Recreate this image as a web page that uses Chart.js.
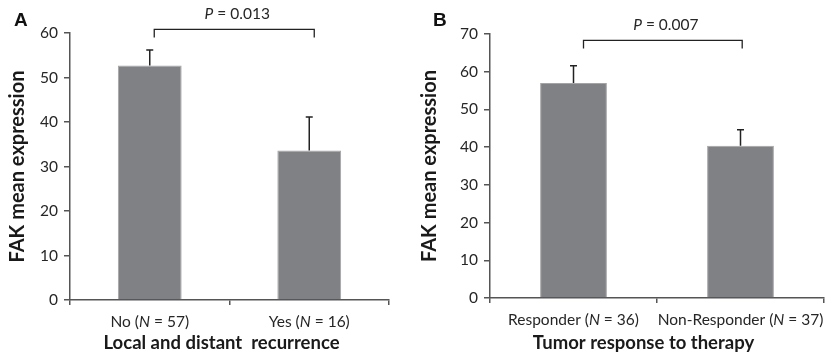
<!DOCTYPE html>
<html><head><meta charset="utf-8">
<script src="https://cdn.jsdelivr.net/npm/chart.js@4"></script>
<style>
html,body{margin:0;padding:0;background:#fff;width:825px;height:358px;overflow:hidden}
.p{position:absolute;top:0;height:358px}
#pa{left:0;width:412px}
#pb{left:412px;width:413px}
</style></head><body>
<div class="p" id="pa"><canvas id="ca"></canvas></div>
<div class="p" id="pb"><canvas id="cb"></canvas></div>
<script>
// ---- data ----
const yTitle = 'FAK mean expression';

const panelA = 'A';
const categoriesA = ['No (N = 57)', 'Yes (N = 16)'];
const meansA = [52.7, 33.6];
const errorsA = [3.5, 7.5];
const yTicksA = [0, 10, 20, 30, 40, 50, 60];
const pValueA = 'P = 0.013';
const xTitleA = 'Local and distant  recurrence';

const panelB = 'B';
const categoriesB = ['Responder (N = 36)', 'Non-Responder (N = 37)'];
const meansB = [57.0, 40.4];
const errorsB = [4.6, 4.2];
const yTicksB = [0, 10, 20, 30, 40, 50, 60, 70];
const pValueB = 'P = 0.007';
const xTitleB = 'Tumor response to therapy';

const FONT = 'Lato, "Open Sans", sans-serif';
const AXIS = '#555';
const TEXT = '#262626';

function drawMixed(ctx, text, cx, cy, size, bold) {
  const parts = text.split(/(\b[NP]\b)/).filter(s => s.length);
  const fN = (bold ? 'bold ' : '') + size + 'px ' + FONT;
  const fI = 'italic ' + (bold ? 'bold ' : '') + size + 'px ' + FONT;
  let w = 0;
  const segs = parts.map(s => {
    const it = /^[NP]$/.test(s);
    ctx.font = it ? fI : fN;
    const m = ctx.measureText(s).width;
    w += m;
    return {s, it, m};
  });
  let x = cx - w / 2;
  ctx.textAlign = 'left';
  ctx.textBaseline = 'middle';
  segs.forEach(g => { ctx.font = g.it ? fI : fN; ctx.fillText(g.s, x, cy); x += g.m; });
}

function makeChart(id, cfg) {
  const overlay = {
    id: 'overlay' + id,
    afterDraw(chart) {
      const ctx = chart.ctx;
      const ys = chart.scales.y, xs = chart.scales.x;
      const bars = chart.getDatasetMeta(0).data;
      const area = chart.chartArea;
      ctx.save();
      // error bars
      ctx.strokeStyle = '#222';
      ctx.lineWidth = 1.5;
      bars.forEach((bar, i) => {
        const top = ys.getPixelForValue(cfg.means[i] + cfg.errors[i]);
        ctx.beginPath();
        ctx.moveTo(bar.x, bar.y);
        ctx.lineTo(bar.x, top);
        ctx.moveTo(bar.x - 3.5, top);
        ctx.lineTo(bar.x + 3.5, top);
        ctx.stroke();
      });
      // bracket
      const yb = ys.getPixelForValue(cfg.bracketValue);
      const x1 = bars[0].x + cfg.bracketOff[0];
      const x2 = bars[1].x + cfg.bracketOff[1];
      ctx.lineWidth = 1.3;
      ctx.beginPath();
      ctx.moveTo(x1, yb + 8);
      ctx.lineTo(x1, yb);
      ctx.lineTo(x2, yb);
      ctx.lineTo(x2, yb + 8);
      ctx.stroke();
      ctx.fillStyle = TEXT;
      drawMixed(ctx, cfg.pValue, (x1 + x2) / 2 + 3, yb - 15, 15.5, false);
      // x tick labels
      cfg.categories.forEach((c, i) => {
        drawMixed(ctx, c, xs.getPixelForValue(i), area.bottom + cfg.labelDy, 15.5, false);
      });
      // x title
      ctx.fillStyle = '#1a1a1a';
      drawMixed(ctx, cfg.xTitle, (area.left + area.right) / 2 + cfg.xTitleDx, area.bottom + cfg.xTitleDy, 18.5, true);
      // panel letter
      ctx.fillStyle = '#111';
      ctx.font = 'bold 19px "Liberation Sans", Arial, sans-serif';
      ctx.textAlign = 'left';
      ctx.textBaseline = 'middle';
      ctx.fillText(cfg.letter, cfg.letterPos[0], cfg.letterPos[1]);
      ctx.restore();
    }
  };
  return new Chart(document.getElementById(id), {
    type: 'bar',
    data: {
      labels: cfg.categories,
      datasets: [{
        data: cfg.means,
        backgroundColor: '#808185',
        borderColor: '#a4a4a7',
        borderWidth: 1,
        categoryPercentage: 1,
        barPercentage: 0.4
      }]
    },
    options: {
      responsive: true,
      maintainAspectRatio: false,
      animation: false,
      devicePixelRatio: 1,
      layout: {padding: {left: 0, right: cfg.padRight, top: cfg.padTop, bottom: 0}},
      plugins: {legend: {display: false}, tooltip: {enabled: false}},
      scales: {
        x: {
          grid: {drawOnChartArea: false, drawTicks: true, tickLength: 5, color: AXIS, lineWidth: 1.5, offset: true},
          border: {color: AXIS, width: 1.5},
          ticks: {display: false},
          afterFit: s => { s.height = cfg.xHeight; }
        },
        y: {
          min: cfg.yTicks[0],
          max: cfg.yTicks[cfg.yTicks.length - 1],
          afterBuildTicks: s => { s.ticks = cfg.yTicks.map(v => ({value: v})); },
          grid: {drawOnChartArea: false, drawTicks: true, tickLength: 6, color: AXIS, lineWidth: 1.5},
          border: {color: AXIS, width: 1.5},
          ticks: {font: {family: FONT, size: 15.5}, color: TEXT, padding: 6},
          title: {display: true, text: yTitle, font: {family: FONT, size: 20, weight: 'bold'}, color: '#1a1a1a', padding: {top: 6, bottom: 0}},
          afterFit: s => { s.width = cfg.yWidth; }
        }
      }
    },
    plugins: [overlay]
  });
}

makeChart('ca', {
  categories: categoriesA, means: meansA, errors: errorsA, yTicks: yTicksA,
  pValue: pValueA, xTitle: xTitleA, letter: panelA,
  padRight: 23, padTop: 33, xHeight: 58, yWidth: 70,
  bracketValue: 60.8, bracketOff: [4.5, 5],
  labelDy: 22, xTitleDy: 43, xTitleDx: -8, letterPos: [14, 21]
});
makeChart('cb', {
  categories: categoriesB, means: meansB, errors: errorsB, yTicks: yTicksB,
  pValue: pValueB, xTitle: xTitleB, letter: panelB,
  padRight: 1, padTop: 34, xHeight: 60, yWidth: 78,
  bracketValue: 68.3, bracketOff: [10, 1.7],
  labelDy: 22, xTitleDy: 45.5, xTitleDx: -13.5, letterPos: [21, 21]
});
</script>
</body></html>
